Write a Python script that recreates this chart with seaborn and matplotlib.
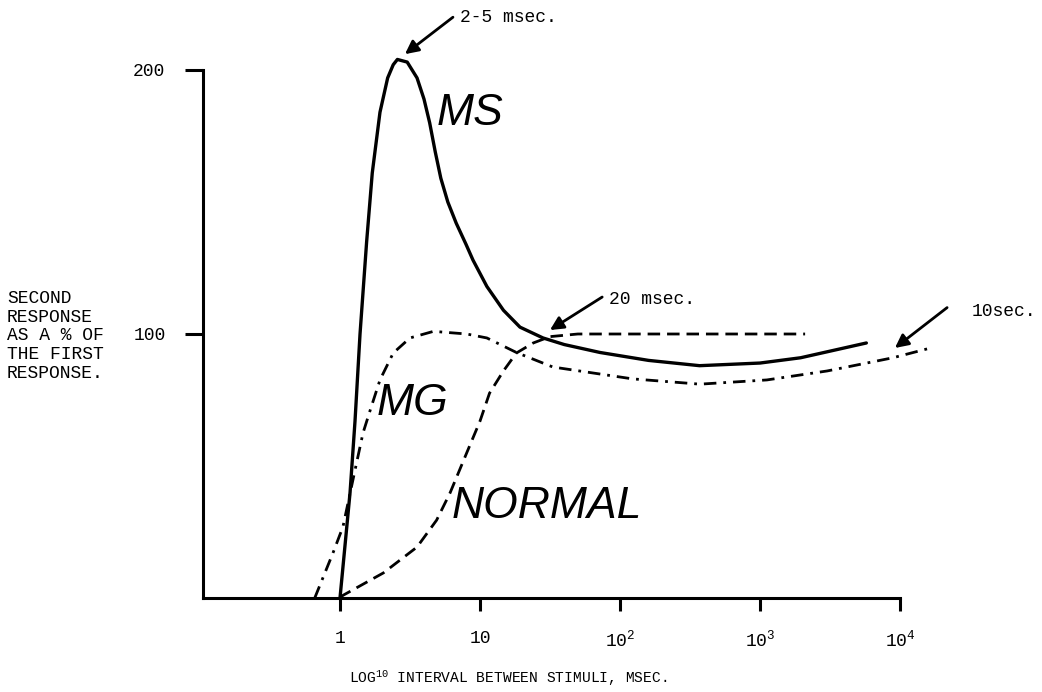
import numpy as np
import matplotlib
matplotlib.use("Agg")
import matplotlib.pyplot as plt
import seaborn as sns

# Values (interval in msec, response in %)
ms_interval = [1.0, 1.18, 1.28, 1.39, 1.55, 1.7, 1.93, 2.19, 2.4, 2.57, 3.02, 3.55,
               3.98, 4.37, 4.79, 5.25, 5.89, 6.76, 7.94, 8.91, 11.2, 14.7, 19.3,
               28.2, 40, 72, 160, 370, 1000, 1950, 5750]
ms_resp = [0, 40, 67, 100, 135, 161, 184, 197, 202, 204, 203, 197,
           189, 180, 169, 159, 150, 142, 134, 128, 118, 109, 102.6,
           98.5, 96, 93, 90, 88, 89, 91, 96.6]

normal_interval = [1.0, 1.05, 2.04, 3.55, 4.9, 6.11, 8.04, 10, 11.7, 14.7, 18.2,
                   24, 31.6, 50, 316, 2100]
normal_resp = [0, 1, 9.5, 19.3, 29.5, 39.8, 55, 67, 77.6, 86, 92.8,
               96.6, 99, 100, 100, 100]

mg_interval = [0.66, 0.89, 1.05, 1.24, 1.46, 1.64, 1.93, 2.4, 3.16, 4.65, 8.04,
               11.2, 18.2, 33.1, 123, 372, 1120, 3020, 8900, 17400]
mg_resp = [0, 17, 27, 45, 62.5, 71, 82.6, 92.8, 98.5, 101, 100,
           98.5, 93, 87.5, 83, 81, 82.6, 86, 91, 95]

x_ticks = [1, 10, 100, 1000, 10000]
x_tick_labels = ["1", "10", "$10^{2}$", "$10^{3}$", "$10^{4}$"]
y_ticks = [100, 200]

# annotations: (text, arrow tip, arrow tail, text position)
notes = [
    ("2-5 msec.", (2.91, 206), (6.41, 220), (7.2, 220)),
    ("20 msec.", (31.6, 101.5), (74.6, 114), (83.6, 113)),
    ("10sec.", (9200, 94.7), (21700, 110), (32600, 108.7)),
]

sns.set_style("white")
plt.rcParams["font.family"] = ["Liberation Mono", "DejaVu Sans Mono"]
plt.rcParams["text.color"] = "black"
plt.rcParams["axes.labelcolor"] = "black"
plt.rcParams["mathtext.fontset"] = "custom"
plt.rcParams["mathtext.rm"] = "Liberation Mono"
plt.rcParams["mathtext.it"] = "Liberation Mono:italic"

fig = plt.figure(figsize=(10.42, 6.92), dpi=100)
ax = fig.add_axes([203 / 1042, 94 / 692, 797 / 1042, 567.6 / 692])

sns.lineplot(x=ms_interval, y=ms_resp, ax=ax, color="black", lw=2.4,
             sort=False, estimator=None)
sns.lineplot(x=normal_interval, y=normal_resp, ax=ax, color="black", lw=2.0,
             sort=False, estimator=None, linestyle=(0, (4.5, 2.5)))
sns.lineplot(x=mg_interval, y=mg_resp, ax=ax, color="black", lw=2.0,
             sort=False, estimator=None, linestyle=(0, (4.5, 2.5, 1, 2.5)))

ax.set_xscale("log")
ax.set_xlim(10 ** (-137 / 140), 10 ** (660 / 140))
ax.set_ylim(0, 215)
ax.minorticks_off()

ax.set_xticks(x_ticks)
ax.set_xticklabels(x_tick_labels)
ax.set_yticks(y_ticks)
ax.tick_params(axis="both", labelsize=13, colors="black", direction="out")
ax.tick_params(axis="x", bottom=True, length=9, width=2.2, pad=14)
ax.tick_params(axis="y", left=True, length=13, width=2.2, pad=14)

for side in ["top", "right"]:
    ax.spines[side].set_visible(False)
for side in ["left", "bottom"]:
    ax.spines[side].set_color("black")
    ax.spines[side].set_linewidth(2.2)
    ax.spines[side].set_capstyle("projecting")
ax.spines["left"].set_bounds(0, 200)
ax.spines["bottom"].set_bounds(10 ** (-137 / 140), 10000)

ax.set_xlabel("LOG$^{10}$ INTERVAL BETWEEN STIMULI, MSEC.", fontsize=10.5)
ax.xaxis.set_label_coords(0.383, -0.124)
ax.set_ylabel("SECOND\nRESPONSE\nAS A % OF\nTHE FIRST\nRESPONSE.", fontsize=13,
              rotation=0, ha="left", va="center", multialignment="left",
              linespacing=1.15)
ax.yaxis.set_label_coords(-0.2459, 0.4616)

# curve names
label_font = dict(fontsize=32, family="Liberation Sans", style="italic",
                  ha="left", va="baseline", color="black")
ax.text(4.93, 179, "MS", **label_font)
ax.text(1.84, 69.3, "MG", **label_font)
ax.text(6.3, 30.3, "NORMAL", **label_font)

for text, tip, tail, pos in notes:
    ax.annotate("", xy=tip, xytext=tail, annotation_clip=False,
                arrowprops=dict(arrowstyle="-|>", color="black", lw=2,
                                mutation_scale=20, shrinkA=0, shrinkB=0))
    ax.text(pos[0], pos[1], text, fontsize=13, ha="left", va="center")

fig.savefig("out.png", dpi=100)
